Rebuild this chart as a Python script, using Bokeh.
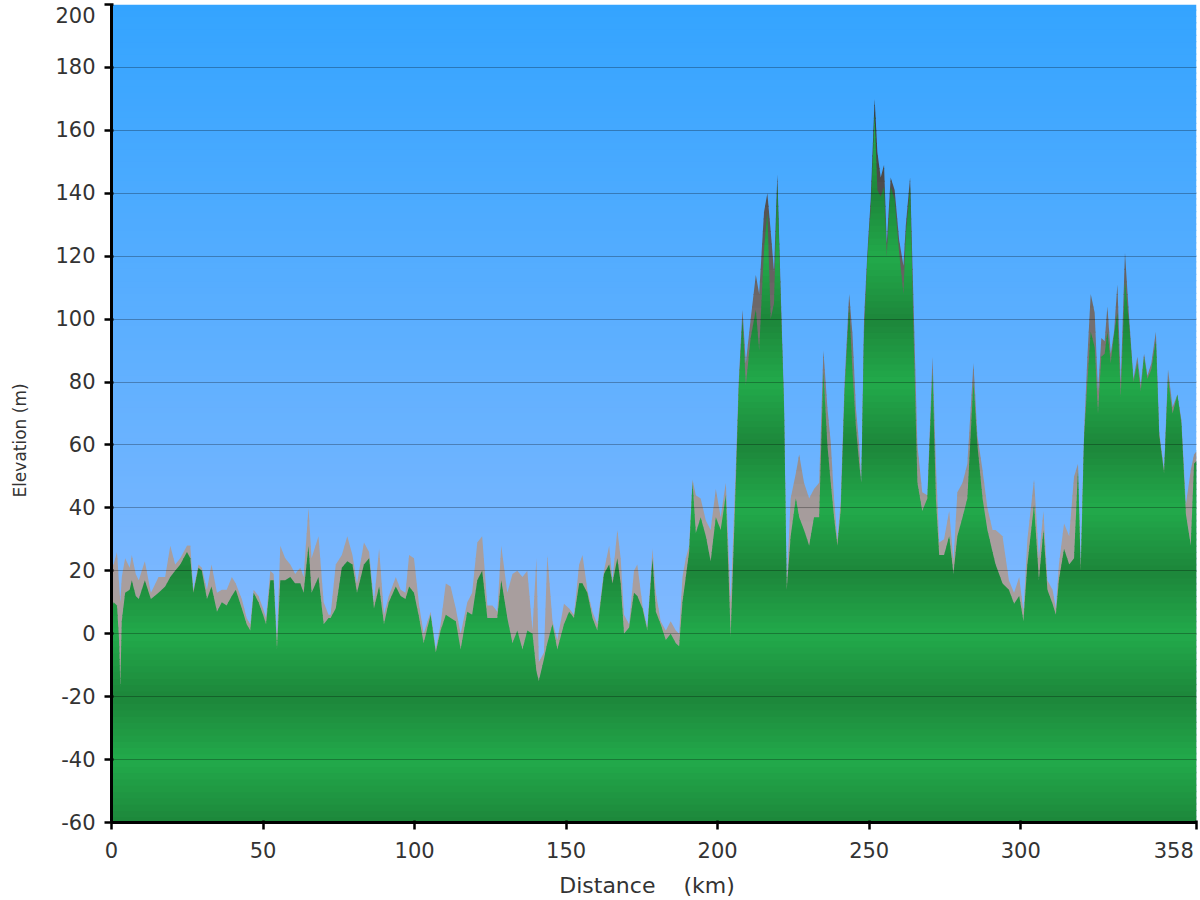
import numpy as np
from bokeh.plotting import figure
from bokeh.models import FixedTicker, Range1d
from bokeh.embed import file_html
from bokeh.resources import INLINE

# ---------------- data ----------------
distance_km = [
    0.0, 0.7, 1.8, 2.5, 2.9, 3.4, 4.5, 6.0, 6.7, 8.0, 9.0, 11.0, 13.0, 15.5, 17.7,
    19.4, 21.0, 22.7, 24.9, 26.0, 27.0, 28.7, 29.8, 31.5, 33.0, 34.8, 36.4, 38.0,
    39.7, 41.0, 43.0, 44.6, 45.8, 46.9, 48.5, 50.0, 51.0, 52.4, 53.5, 54.6, 55.7,
    57.3, 59.0, 60.6, 62.3, 63.4, 65.0, 66.0, 68.3, 70.0, 71.6, 72.3, 74.0, 76.0,
    77.8, 79.5, 81.0, 83.3, 85.0, 86.6, 88.3, 89.9, 91.5, 93.8, 95.4, 97.0, 98.2,
    99.8, 101.5, 103.0, 105.3, 107.0, 108.6, 110.3, 111.9, 113.6, 115.2, 117.4,
    119.0, 120.7, 122.3, 124.0, 125.7, 127.3, 128.6, 130.6, 132.3, 133.9, 135.6,
    137.2, 138.9, 140.2, 141.0, 142.7, 143.8, 145.5, 147.1, 149.3, 151.0, 152.6,
    154.3, 155.4, 157.0, 158.7, 160.3, 162.5, 164.2, 165.3, 166.9, 168.0, 169.1,
    170.8, 172.4, 173.5, 175.2, 176.8, 178.5, 179.6, 181.2, 182.9, 184.5, 186.2,
    187.3, 188.4, 189.5, 190.6, 191.7, 192.8, 194.4, 196.1, 197.7, 199.4, 201.0,
    202.7, 204.3, 206.0, 207.0, 208.2, 209.3, 210.9, 212.6, 213.7, 215.3, 216.4,
    217.5, 218.6, 219.7, 220.8, 221.9, 222.8, 224.1, 225.8, 226.9, 228.5, 230.2,
    231.8, 233.5, 234.9, 236.2, 237.3, 238.4, 239.5, 240.6, 241.9, 243.4, 244.5,
    245.6, 246.7, 247.4, 248.3, 249.4, 250.5, 251.8, 252.7, 253.8, 254.9, 255.8,
    257.1, 258.4, 259.9, 261.3, 262.1, 263.5, 264.6, 265.9, 267.5, 269.2, 270.9,
    272.0, 273.1, 274.7, 276.4, 277.8, 279.1, 280.8, 282.4, 284.4, 285.7, 287.4,
    289.0, 290.7, 291.7, 294.0, 296.1, 297.8, 299.5, 300.9, 302.2, 304.4, 306.0,
    307.5, 308.8, 310.5, 311.6, 312.6, 314.3, 316.0, 317.6, 318.9, 319.8, 320.9,
    322.0, 323.1, 324.4, 325.5, 326.6, 327.7, 328.6, 329.7, 330.8, 331.9, 333.0,
    334.4, 335.8, 337.2, 338.5, 339.6, 340.7, 341.8, 343.1, 344.6, 345.7, 347.3,
    348.6, 350.1, 351.7, 353.0, 354.5, 356.1, 357.2, 358.0,
]
# upper envelope (grey)
elevation_max_m = [
    22, 22, 26, 16, 10, 18, 24, 21, 25, 19, 17, 23, 13, 18, 18,
    28, 22, 24, 28, 28, 14, 22, 21, 14, 22, 13, 14, 14,
    18, 16, 11, 5, 3, 14, 12, 8, 5, 20, 19, -2, 28,
    24, 22, 19, 21, 18, 40, 24, 31, 10, 6, 6, 22, 25,
    31, 25, 16, 29, 26, 10, 27, 6, 12, 18, 14, 13, 25,
    24, 9, 0, 7, -5, 3, 16, 15, 8, 0, 10,
    13, 29, 31, 9, 9, 7, 28, 13, 19, 20, 18,
    20, 1, 24, -9, -6, 25, 4, -2, 9.5, 8, 6,
    22, 25, 14, 7, 3, 20, 28, 17, 33, 24, 6,
    3, 20, 22, 9, 2, 27, 13, 4, 1, 4, 1,
    0, 18, 24, 28, 49, 44, 43, 36, 33, 46, 37,
    48, 10, 53, 81, 103, 86, 100, 114, 108, 134, 140,
    128, 115, 146, 109, 74, 16, 43, 51, 57, 48, 43,
    46, 48, 90, 72, 61, 43, 30, 42, 80, 108, 95,
    72, 60, 48, 100, 121, 138, 170, 153, 145, 149, 124,
    145, 141, 125, 117, 130, 145, 106, 60, 45, 44, 88,
    54, 29, 30, 39, 23, 45, 48, 54, 86, 63, 52,
    40, 33, 33, 31, 17, 13, 18, 7, 30, 49, 24,
    39, 17, 14, 8, 22, 35, 31, 50, 54, 22, 64,
    88, 108, 102, 77, 94, 93, 104, 89, 96, 111, 80,
    121, 100, 81, 88, 79, 89, 82, 86, 96, 64, 52,
    84, 72, 76, 68, 41, 52, 57, 58,
]
# lower / main profile (green)
elevation_min_m = [
    8, 10, 9, -2, -17, 4, 13, 14, 17, 12, 11, 17, 11, 13, 15,
    18, 20, 22, 26, 24, 13, 21, 20, 11, 15, 7, 10, 9,
    12, 14, 8, 3, 1, 13, 10, 6, 3, 17, 17, -5, 17,
    17, 18, 16, 16, 13, 28, 13, 18, 3, 5, 5, 8, 21,
    23, 22, 13, 22, 24, 8, 15, 3, 10, 15, 12, 11, 15,
    13, 5, -3, 6, -6, 1, 6, 5, 4, -5, 7,
    6, 17, 20, 5, 5, 5, 17, 5, -3, 1, -5,
    1, 0, -12, -15, -8, -3, 3, -5, 3, 7, 5,
    16, 16, 13, 5, 1, 19, 22, 16, 24, 16, 0,
    2, 13, 12, 8, 1, 24, 7, 3, -2, 0, -3,
    -4, 10, 18, 26, 48, 32, 37, 31, 23, 37, 33,
    44, -1, 48, 79, 100, 79, 94, 103, 90, 122, 134,
    100, 105, 143, 106, 72, 14, 31, 43, 37, 33, 28,
    37, 37, 83, 60, 48, 37, 28, 39, 77, 104, 83,
    66, 54, 48, 95, 119, 135, 165, 141, 139, 142, 120,
    142, 138, 121, 108, 127, 142, 97, 48, 39, 43, 83,
    43, 25, 25, 31, 19, 31, 37, 43, 80, 60, 43,
    33, 26, 22, 16, 14, 9.5, 12, 4, 22, 41, 17,
    33, 14, 9.5, 6, 17, 27, 22, 24, 52, 20, 62,
    80, 96, 91, 70, 88, 89, 96, 86, 95, 102, 75,
    112, 98, 80, 86, 77, 88, 81, 84, 93, 63, 51,
    81, 70, 76, 67, 38, 28, 54, 55,
]
y_tick_values = [-60, -40, -20, 0, 20, 40, 60, 80, 100, 120, 140, 160, 180, 200]
x_tick_values = [0, 50, 100, 150, 200, 250, 300, 358]

X0, X1 = 0, 358
Y0, Y1 = -60, 200

km = np.array(distance_km, dtype=float)
emax = np.array(elevation_max_m, dtype=float)
emin = np.array(elevation_min_m, dtype=float)

FONT = "DejaVu Sans"
NB = "\u00a0"

p = figure(width=1200, height=900, x_range=Range1d(X0, X1), y_range=Range1d(Y0, Y1),
           output_backend="svg", toolbar_location=None,
           min_border_left=111, min_border_right=4, min_border_top=4, min_border_bottom=78)
p.outline_line_color = None
p.background_fill_color = "white"
p.border_fill_color = "white"


def hexc(rgb):
    return "#%02x%02x%02x" % tuple(int(round(c)) for c in rgb)


# ---------------- sky gradient ----------------
sky_top = np.array([52, 164, 255])
sky_bot = np.array([152, 191, 255])
step = 2.0
bottoms = np.arange(Y0, Y1, step)
tops = np.minimum(bottoms + step + 0.4, Y1)
mids = bottoms + step / 2
t = (Y1 - mids) / (Y1 - Y0)
sky_cols = [hexc(sky_top + tt * (sky_bot - sky_top)) for tt in t]
p.quad(left=X0, right=X1, bottom=bottoms, top=tops, fill_color=sky_cols, line_color=None)


# ---------------- banded (gradient) areas ----------------
def add_crossings(xv, yv, levels):
    """Insert the exact points where the profile line crosses each band edge."""
    xs, ys = [xv[0]], [yv[0]]
    for i in range(len(xv) - 1):
        xa, ya, xb, yb = xv[i], yv[i], xv[i + 1], yv[i + 1]
        if yb != ya:
            lo, hi = min(ya, yb), max(ya, yb)
            lv = levels[(levels > lo) & (levels < hi)]
            tt = (lv - ya) / (yb - ya)
            order = np.argsort(tt)
            for k in order:
                xs.append(xa + tt[k] * (xb - xa))
                ys.append(lv[k])
        xs.append(xb)
        ys.append(yb)
    return np.array(xs), np.array(ys)


def band_patches(profile, step, color_fn, overlap=0.35):
    levels = np.arange(Y0, Y1 + step, step)
    xr, yr = add_crossings(km, profile, levels)
    out_x, out_y, out_c = [], [], []
    for b0 in levels[:-1]:
        b1 = b0 + step
        idx = np.flatnonzero(yr >= b0 - 1e-9)
        if len(idx) < 2:
            continue
        runs = np.split(idx, np.flatnonzero(np.diff(idx) > 1) + 1)
        col = color_fn(b0 + step / 2)
        for r in runs:
            if len(r) < 2:
                continue
            x = xr[r]
            top = np.clip(yr[r], b0, b1)
            flat = top >= b1 - 1e-9
            keep = np.ones(len(r), bool)
            keep[1:-1] = ~(flat[1:-1] & flat[:-2] & flat[2:])
            x, top = x[keep], top[keep]
            if x[-1] - x[0] <= 0:
                continue
            out_x.append(list(x) + [x[-1], x[0]])
            out_y.append(list(top) + [b0 - overlap, b0 - overlap])
            out_c.append(col)
    return out_x, out_y, out_c


grey_light = np.array([168, 158, 158])
grey_dark = np.array([60, 60, 60])


def grey_color(v):
    tt = np.clip((v - 35) / (165 - 35), 0, 1)
    return hexc(grey_light + tt * (grey_dark - grey_light))


green_light = np.array([34, 170, 75])
green_dark = np.array([29, 134, 58])


def green_color(v):
    d = abs(((v - 20) + 20) % 40 - 20) / 20.0  # 0 at dark levels (20 + 40k), 1 at light (40k)
    return hexc(green_dark + d * (green_light - green_dark))


gx, gy, gc = band_patches(emax, 4.0, grey_color)
p.patches(xs=gx, ys=gy, fill_color=gc, line_color=None)

nx, ny, nc = band_patches(emin, 2.0, green_color)
p.patches(xs=nx, ys=ny, fill_color=nc, line_color=None)

# ---------------- grid & axes ----------------
p.xgrid.visible = False
p.ygrid.ticker = FixedTicker(ticks=y_tick_values)
p.ygrid.grid_line_color = "black"
p.ygrid.grid_line_alpha = 0.28
p.ygrid.grid_line_width = 1
p.ygrid.level = "overlay"

p.yaxis.ticker = FixedTicker(ticks=y_tick_values)
p.xaxis.ticker = FixedTicker(ticks=x_tick_values)
p.yaxis.major_label_overrides = {-60: "-60", -40: "-40", -20: "-20", 200: "\n200"}
p.xaxis.major_label_overrides = {358: "358" + NB}

for ax in (p.xaxis[0], p.yaxis[0]):
    ax.axis_line_color = "black"
    ax.axis_line_width = 3
    ax.major_tick_line_color = "black"
    ax.major_tick_line_width = 2.5
    ax.major_tick_out = 7
    ax.major_tick_in = 2
    ax.minor_tick_line_color = None
    ax.major_label_text_font = FONT
    ax.major_label_text_font_size = "21px"
    ax.major_label_text_color = "#333333"
    ax.axis_label_text_font = FONT
    ax.axis_label_text_font_style = "normal"
    ax.axis_label_text_color = "#333333"
    ax.major_label_standoff = 9

p.yaxis.major_label_text_line_height = 0.15

p.yaxis.axis_label = "Elevation (m)" + NB * 10
p.yaxis.axis_label_text_font_size = "17px"
p.xaxis.axis_label = "Distance" + NB * 4 + "(km)" + NB * 2
p.xaxis.axis_label_text_font_size = "22px"
p.yaxis.axis_label_standoff = 22
p.xaxis.axis_label_standoff = 7

open("out.html", "w").write(file_html(p, INLINE))
